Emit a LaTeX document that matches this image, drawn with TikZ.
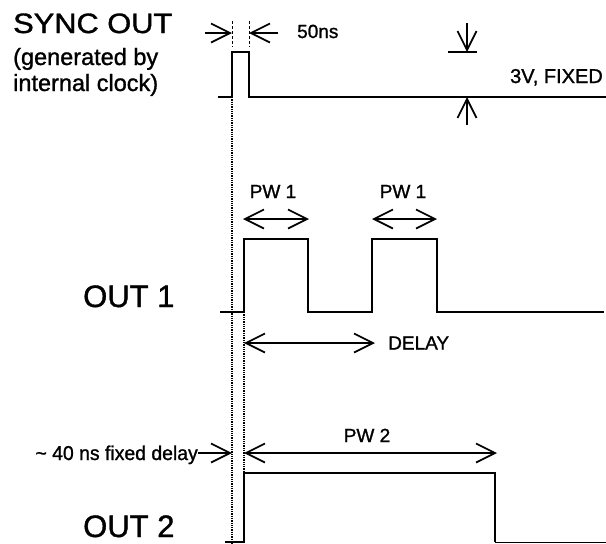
\documentclass[tikz,border=0pt]{standalone}
\usepackage{fontspec}
\setmainfont{Liberation Sans}[BoldFont=Liberation Sans, BoldFeatures={FakeBold=1.2}]
\usetikzlibrary{arrows.meta,positioning}

\begin{document}
\begin{tikzpicture}[x=1pt, y=-1pt,
        wave/.style={line width=2.7pt, line join=miter},
        dim/.style={line width=1.7pt},
        guide/.style={line width=1.3pt, densely dotted},
        lbl/.style={inner sep=0pt, font=\fontsize{19}{22}\bfseries},
        big/.style={inner sep=0pt, font=\fontsize{31}{36}\bfseries},
        >={Straight Barb[length=19pt,width=19pt]}
    ]
    \useasboundingbox (0,0) rectangle (606,544);

    \node[inner sep=0pt, anchor=base west, font=\fontsize{28}{30}\bfseries] (sync) at (13,33) {\scalebox{1.1}[1]{SYNC OUT}};
    \node[lbl, anchor=base west, font=\fontsize{23.5}{26}\bfseries] (gen) at (13,65) {(generated by};
    \node[lbl, anchor=base west, font=\fontsize{23.5}{26}\bfseries] (clk) at (13,91) {internal clock)};
    \node[big, anchor=base west] (out1) at (83,307) {OUT 1};
    \node[big, anchor=base west] (out2) at (83,537) {OUT 2};

    % waveforms
    \draw[wave] (218,97) -- (232,97) -- (232,52) -- (249,52) -- (249,97) -- (606,97);
    \draw[wave] (220,312) -- (244,312) -- (244,239) -- (308,239) -- (308,312)
        -- (372,312) -- (372,239) -- (437,239) -- (437,312) -- (604,312);
    \draw[wave] (225,542) -- (244,542) -- (244,473) -- (495,473) -- (495,542);
    \draw[line width=1pt] (495,542) -- (606,542);

    \draw[guide] (232,97) -- (232,544);
    \draw[guide] (244,312) -- (244,544);

    % 50ns
    \coordinate (t1) at (232,33);
    \coordinate (t2) at (249,33);
    \draw[line width=1pt, densely dashed] (232,21) -- (232,47) (249,21) -- (249,47);
    \draw[dim,->] (205,33) -- (t1);
    \draw[dim,->] (278,33) -- (t2);
    \node[lbl, anchor=base west] (ns) at (297,38) {50ns};

    % 3V fixed
    \coordinate (v1) at (467,52);
    \coordinate (v2) at (467,97);
    \draw[dim,->] (467,23) -- (v1);
    \draw[dim] (448,52) -- (477,52);
    \draw[dim,->] (467,125) -- (v2);
    \node[lbl, anchor=base east, font=\fontsize{20}{22}\bfseries] (fix) at (603,83) {3V, FIXED};

    % out 1
    \coordinate (a1) at (243,219);
    \coordinate (b1) at (309,219);
    \coordinate (a2) at (372,219);
    \coordinate (b2) at (437,219);
    \draw[dim,<->] (a1) -- (b1);
    \draw[dim,<->] (a2) -- (b2);
    \node[lbl, anchor=base] (pw1a) at (273,198) {PW 1};
    \node[lbl, anchor=base] (pw1b) at (403,198) {PW 1};
    \coordinate (d1) at (244,343);
    \coordinate (d2) at (375,343);
    \draw[dim,<->] (d1) -- (d2);
    \node[lbl, right=13pt of d2, anchor=west] (delay) {DELAY};

    % out 2
    \node[lbl, anchor=base east, font=\fontsize{20}{22}\bfseries] (fd) at (198,460) {\scalebox{0.97}[1]{\textasciitilde{} 40 ns fixed delay}};
    \coordinate (f1) at (232,453);
    \coordinate (p1) at (244,453);
    \coordinate (p2) at (497,453);
    \draw[dim,->] (fd.east |- f1) -- (f1);
    \draw[dim,<->] (p1) -- (p2);
    \node[lbl, anchor=base] (pw2) at (367,442) {PW 2};
\end{tikzpicture}
\end{document}
